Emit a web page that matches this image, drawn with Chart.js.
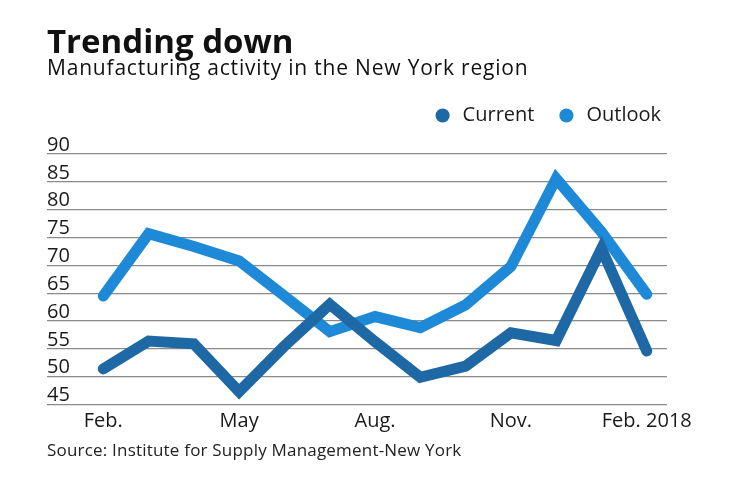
<!DOCTYPE html>
<html>
<head>
<meta charset="utf-8">
<script src="https://cdn.jsdelivr.net/npm/chart.js@4.4.1/dist/chart.umd.min.js"></script>
<style>
  html, body { margin: 0; padding: 0; background: #ffffff; }
  body { width: 740px; height: 482px; position: relative; overflow: hidden; font-family: 'Open Sans', sans-serif; color: #111; }
  #wrap { position: absolute; left: 0; top: 0; width: 740px; height: 482px; }
  .txt { position: absolute; left: 47px; line-height: 1; white-space: nowrap; }
  #title { top: 24px; font-size: 33px; font-weight: 700; color: #111; }
  #subtitle { top: 56.5px; font-size: 21px; font-weight: 400; letter-spacing: 0.8px; color: #111; }
  #source { top: 440.5px; font-size: 17px; font-weight: 400; letter-spacing: 0.2px; color: #222; }
</style>
</head>
<body>
<div id="wrap"><canvas id="c" width="740" height="482"></canvas></div>
<div class="txt" id="title">Trending down</div>
<div class="txt" id="subtitle">Manufacturing activity in the New York region</div>
<div class="txt" id="source">Source: Institute for Supply Management-New York</div>
<script>
// ---- data ----
const months = ['Feb.', 'Mar.', 'Apr.', 'May', 'Jun.', 'Jul.', 'Aug.', 'Sep.', 'Oct.', 'Nov.', 'Dec.', 'Jan.', 'Feb. 2018'];
const current = [51.4, 56.4, 55.9, 47.3, 55.5, 63.0, 56.3, 49.9, 51.9, 57.9, 56.5, 73.0, 54.6];
const outlook = [64.5, 75.7, 73.4, 70.8, 64.5, 58.1, 60.8, 58.8, 62.9, 69.8, 85.6, 76.0, 64.8];
const seriesNames = ['Current', 'Outlook'];
const xTickIndex = [0, 3, 6, 9, 12];
const xTickLabels = ['Feb.', 'May', 'Aug.', 'Nov.', 'Feb. 2018'];
const yTicks = [45, 50, 55, 60, 65, 70, 75, 80, 85, 90];

const darkBlue = '#1e69a5';
const lightBlue = '#1e89d7';

Chart.defaults.font.family = "'Open Sans', sans-serif";
Chart.defaults.color = '#1a1a1a';

const toPoints = arr => arr.map((v, i) => ({ x: i, y: v }));

new Chart(document.getElementById('c'), {
  type: 'line',
  data: {
    datasets: [
      { label: seriesNames[0], data: toPoints(current), borderColor: darkBlue, backgroundColor: darkBlue,
        borderWidth: 11, pointRadius: 0, tension: 0, borderCapStyle: 'round', borderJoinStyle: 'miter', fill: false },
      { label: seriesNames[1], data: toPoints(outlook), borderColor: lightBlue, backgroundColor: lightBlue,
        borderWidth: 11, pointRadius: 0, tension: 0, borderCapStyle: 'round', borderJoinStyle: 'miter', fill: false }
    ]
  },
  options: {
    responsive: false,
    animation: false,
    devicePixelRatio: 1,
    layout: { padding: { left: 47, right: 57, top: 83.5, bottom: 43.5 } },
    plugins: {
      tooltip: { enabled: false },
      title: { display: false },
      legend: {
        display: true,
        position: 'top',
        align: 'end',
        labels: {
          usePointStyle: true,
          pointStyle: 'circle',
          boxWidth: 20,
          boxHeight: 10,
          padding: 22,
          color: '#1a1a1a',
          font: { size: 20 },
          generateLabels(chart) {
            return chart.data.datasets.map((ds, i) => ({
              text: ds.label, fillStyle: ds.borderColor, strokeStyle: ds.borderColor,
              lineWidth: 0, pointStyle: 'circle', hidden: false, datasetIndex: i, fontColor: '#1a1a1a'
            }));
          }
        }
      }
    },
    scales: {
      x: {
        type: 'linear',
        min: -1.243,
        max: 12.447,
        grid: { display: false, drawTicks: false },
        border: { display: false },
        afterBuildTicks(scale) { scale.ticks = xTickIndex.map(v => ({ value: v })); },
        ticks: {
          padding: 5,
          maxRotation: 0,
          autoSkip: false,
          font: { size: 20 },
          color: '#1a1a1a',
          callback(value) { const k = xTickIndex.indexOf(value); return k >= 0 ? xTickLabels[k] : ''; }
        }
      },
      y: {
        type: 'linear',
        position: 'left',
        min: 45,
        max: 93.343,
        afterBuildTicks(scale) { scale.ticks = yTicks.map(v => ({ value: v })); },
        afterFit(scale) { scale.width = 0; },
        grid: { display: true, drawTicks: false, color: '#8a8a8a', lineWidth: 1.3 },
        border: { display: false },
        ticks: {
          mirror: true,
          padding: 0,
          labelOffset: -9,
          font: { size: 20 },
          color: '#1a1a1a',
          callback(value) { return String(value); }
        }
      },
      y2: {
        type: 'linear',
        position: 'right',
        display: true,
        grid: { display: false, drawTicks: false },
        border: { display: false },
        ticks: { display: false },
        afterFit(scale) { scale.width = 16; }
      }
    }
  }
});
</script>
</body>
</html>
